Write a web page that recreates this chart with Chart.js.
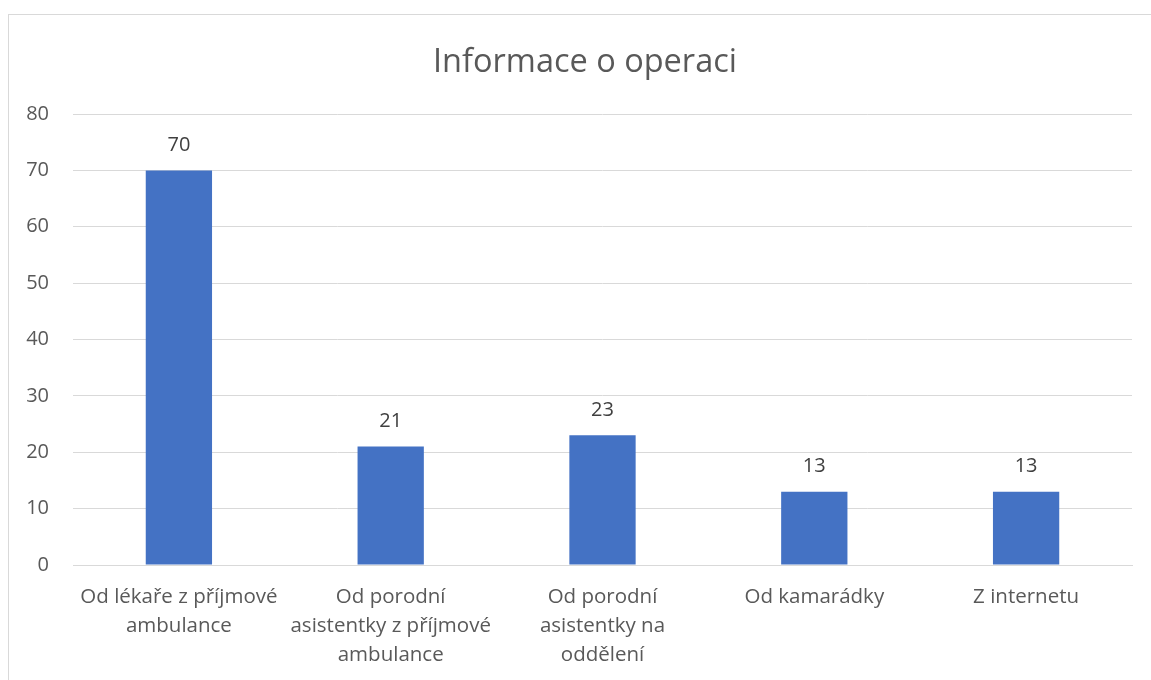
<!DOCTYPE html>
<html>
<head>
<meta charset="utf-8">
<script src="https://cdn.jsdelivr.net/npm/chart.js@4.4.1/dist/chart.umd.min.js"></script>
<style>
  html, body { margin: 0; padding: 0; background: #fff; overflow: hidden; }
  #frame {
    position: absolute; left: 8px; top: 14px; width: 1300px; height: 800px;
    border: 1px solid #d9d9d9; box-sizing: border-box;
  }
  #wrap { position: absolute; left: 0; top: 0; width: 1151px; height: 680px; }
</style>
</head>
<body>
<div id="frame"></div>
<div id="wrap"><canvas id="infoChart"></canvas></div>
<script>
const categories = [
  ['Od lékaře z příjmové', 'ambulance'],
  ['Od porodní', 'asistentky z příjmové', 'ambulance'],
  ['Od porodní', 'asistentky na', 'oddělení'],
  'Od kamarádky',
  'Z internetu'
];
const counts = [70, 21, 23, 13, 13];
const yTicks = [0, 10, 20, 30, 40, 50, 60, 70, 80];

const FONT = "'Open Sans', 'Noto Sans', sans-serif";

// prints each bar's value just above it
const valueLabels = {
  id: 'valueLabels',
  afterDatasetsDraw(chart) {
    const { ctx } = chart;
    ctx.save();
    ctx.font = '20px ' + FONT;
    ctx.fillStyle = '#404040';
    ctx.textAlign = 'center';
    ctx.textBaseline = 'middle';
    chart.getDatasetMeta(0).data.forEach((bar, i) => {
      ctx.fillText(String(chart.data.datasets[0].data[i]), bar.x, bar.y - 25);
    });
    ctx.restore();
  }
};

const ctx = document.getElementById('infoChart').getContext('2d');
new Chart(ctx, {
  type: 'bar',
  data: {
    labels: categories,
    datasets: [{
      data: counts,
      backgroundColor: '#4472c4',
      borderWidth: 0,
      barPercentage: 0.313,
      categoryPercentage: 1
    }]
  },
  options: {
    responsive: true,
    maintainAspectRatio: false,
    animation: false,
    layout: { padding: { left: 19, right: 0, top: 0, bottom: 0 } },
    plugins: {
      legend: { display: false },
      tooltip: { enabled: false },
      title: {
        display: true,
        text: 'Informace o operaci',
        color: '#595959',
        font: { family: FONT, size: 32.5, weight: 'normal' },
        padding: { top: 43, bottom: 32 }
      }
    },
    scales: {
      x: {
        grid: { display: false, drawTicks: false },
        border: { display: true, color: '#d9d9d9', width: 1 },
        ticks: {
          color: '#595959',
          font: { family: FONT, size: 20.5, lineHeight: 1.4 },
          padding: 18,
          maxRotation: 0,
          autoSkip: false
        },
        afterFit(scale) { scale.height = 115; }
      },
      y: {
        min: 0,
        max: 80,
        afterBuildTicks(scale) { scale.ticks = yTicks.map(v => ({ value: v })); },
        grid: { color: '#d9d9d9', lineWidth: 1, drawTicks: false },
        border: { display: false },
        ticks: {
          color: '#595959',
          font: { family: FONT, size: 20 },
          padding: 24
        },
        afterFit(scale) { scale.width = 54; }
      },
      // empty right-hand axis, only reserves the margin right of the plot
      yRight: {
        position: 'right',
        grid: { display: false, drawTicks: false },
        border: { display: false },
        ticks: { display: false },
        afterFit(scale) { scale.width = 19; }
      }
    }
  },
  plugins: [valueLabels]
});
</script>
</body>
</html>
